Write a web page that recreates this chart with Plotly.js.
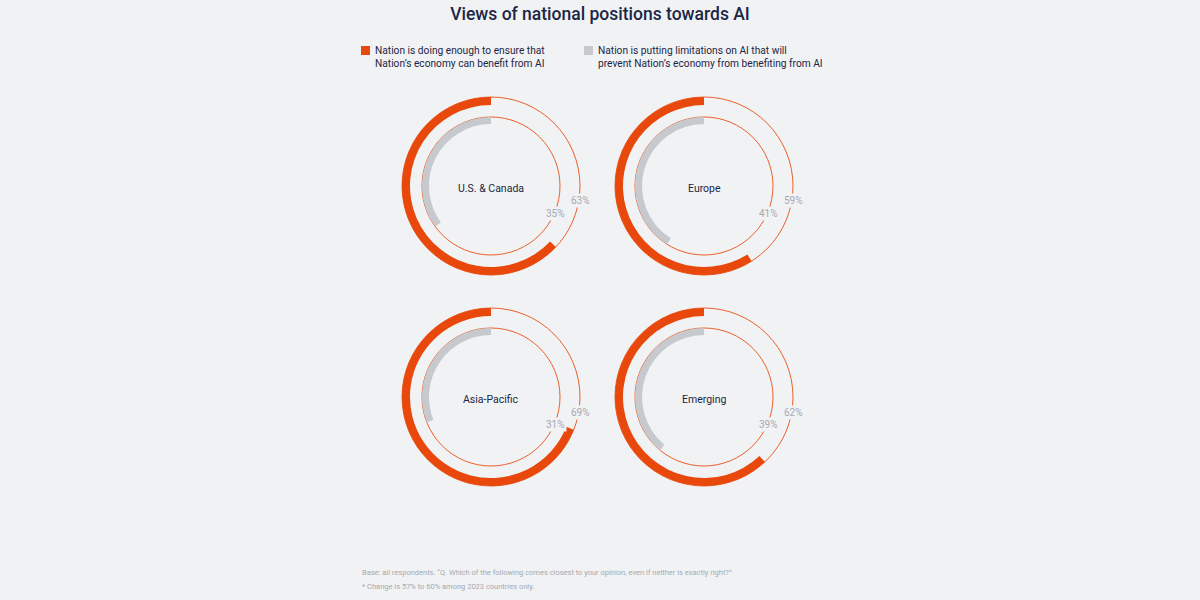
<!DOCTYPE html>
<html>
<head>
<meta charset="utf-8">
<script src="https://cdn.plot.ly/plotly-3.0.1.min.js"></script>
<style>html,body{margin:0;padding:0;background:#f1f2f4;}#chart{width:1200px;height:600px;}</style>
</head>
<body>
<div id="chart"></div>
<script>
// ---- data ----
const regions = ['U.S. & Canada', 'Europe', 'Asia-Pacific', 'Emerging'];
const doingEnough = [63, 59, 69, 62];
const limitations = [35, 41, 31, 39];
const seriesNames = [
  'Nation is doing enough to ensure that<br>Nation’s economy can benefit from AI',
  'Nation is putting limitations on AI that will<br>prevent Nation’s economy from benefiting from AI'
];
const titleText = 'Views of national positions towards AI';
const footnotes = [
  'Base: all respondents. “Q. Which of the following comes closest to your opinion, even if neither is exactly right?”',
  '* Change is 57% to 60% among 2023 countries only.'
];

// ---- style ----
const W = 1200, H = 600;
const BG = '#f1f2f4';
const ORANGE = '#e8480c';
const LINE = '#ec5f2a';
const GRAY = '#c6c9cd';
const NAVY = '#1c2645';
const LABELGRAY = '#a6a9b0';
const FONT = 'Roboto, "Noto Sans", sans-serif';
const centers = [[491, 186], [704, 186], [491, 397], [704, 397]];
const R = 100; // px radius of each polar domain (radial range 0..100)
const outerBase = 81, outerThick = 8, innerBase = 62, innerThick = 7;

const traces = [];
const layout = {
  width: W, height: H,
  margin: {l: 0, r: 0, t: 0, b: 0},
  paper_bgcolor: BG, plot_bgcolor: BG,
  showlegend: false,
  font: {family: FONT, color: NAVY},
  title: {text: titleText, x: 0.5, xanchor: 'center', y: 1 - 14 / H, yanchor: 'middle',
          font: {family: FONT, size: 17.5, color: NAVY, weight: 500}},
  annotations: [],
  shapes: []
};

regions.forEach((name, i) => {
  const key = i === 0 ? 'polar' : 'polar' + (i + 1);
  const [cx, cy] = centers[i];
  layout[key] = {
    domain: {x: [(cx - R) / W, (cx + R) / W], y: [1 - (cy + R) / H, 1 - (cy - R) / H]},
    bgcolor: 'rgba(0,0,0,0)',
    radialaxis: {range: [0, 100], tickvals: [innerBase + innerThick, outerBase + outerThick],
                 showticklabels: false, ticks: '', showline: false,
                 gridcolor: LINE, gridwidth: 1},
    angularaxis: {rotation: 90, direction: 'counterclockwise', showgrid: false,
                  showline: false, showticklabels: false, ticks: ''}
  };
  traces.push({
    type: 'barpolar', subplot: key, name: 'Doing enough',
    r: [outerThick], base: [outerBase],
    theta: [doingEnough[i] * 3.6 / 2], width: [doingEnough[i] * 3.6],
    marker: {color: ORANGE, line: {width: 0}}, hoverinfo: 'skip'
  });
  traces.push({
    type: 'barpolar', subplot: key, name: 'Limitations',
    r: [innerThick], base: [innerBase],
    theta: [limitations[i] * 3.6 / 2], width: [limitations[i] * 3.6],
    marker: {color: GRAY, line: {width: 0}}, hoverinfo: 'skip'
  });
  // center label
  layout.annotations.push({
    xref: 'paper', yref: 'paper', x: cx / W, y: 1 - (cy + 2) / H,
    text: name, showarrow: false, xanchor: 'center', yanchor: 'middle',
    font: {family: FONT, size: 10.5, color: NAVY}
  });
  // percent labels
  layout.annotations.push({
    xref: 'paper', yref: 'paper', x: (cx + 89) / W, y: 1 - (cy + 15) / H,
    text: doingEnough[i] + '%', showarrow: false, xanchor: 'center', yanchor: 'middle',
    bgcolor: BG, borderpad: 1,
    font: {family: FONT, size: 10, color: LABELGRAY}
  });
  layout.annotations.push({
    xref: 'paper', yref: 'paper', x: (cx + 64) / W, y: 1 - (cy + 27) / H,
    text: limitations[i] + '%', showarrow: false, xanchor: 'center', yanchor: 'middle',
    bgcolor: BG, borderpad: 1,
    font: {family: FONT, size: 10, color: LABELGRAY}
  });
});

// legend (squares + text)
const legendItems = [[361, ORANGE], [584, GRAY]];
legendItems.forEach(([lx, col], k) => {
  layout.shapes.push({type: 'rect', xref: 'paper', yref: 'paper',
    x0: lx / W, x1: (lx + 9) / W, y0: 1 - 55 / H, y1: 1 - 46 / H,
    fillcolor: col, line: {width: 0}});
  layout.annotations.push({
    xref: 'paper', yref: 'paper', x: (lx + 12) / W, y: 1 - 43 / H,
    text: seriesNames[k], showarrow: false, xanchor: 'left', yanchor: 'top', align: 'left',
    font: {family: FONT, size: 10.2, color: NAVY}
  });
});

// footnotes
footnotes.forEach((t, k) => {
  layout.annotations.push({
    xref: 'paper', yref: 'paper', x: 360 / W, y: 1 - (572 + k * 14) / H,
    text: t, showarrow: false, xanchor: 'left', yanchor: 'middle', align: 'left',
    font: {family: FONT, size: 7.5, color: LABELGRAY}
  });
});

Plotly.newPlot('chart', traces, layout, {staticPlot: true, displayModeBar: false});
</script>
</body>
</html>
